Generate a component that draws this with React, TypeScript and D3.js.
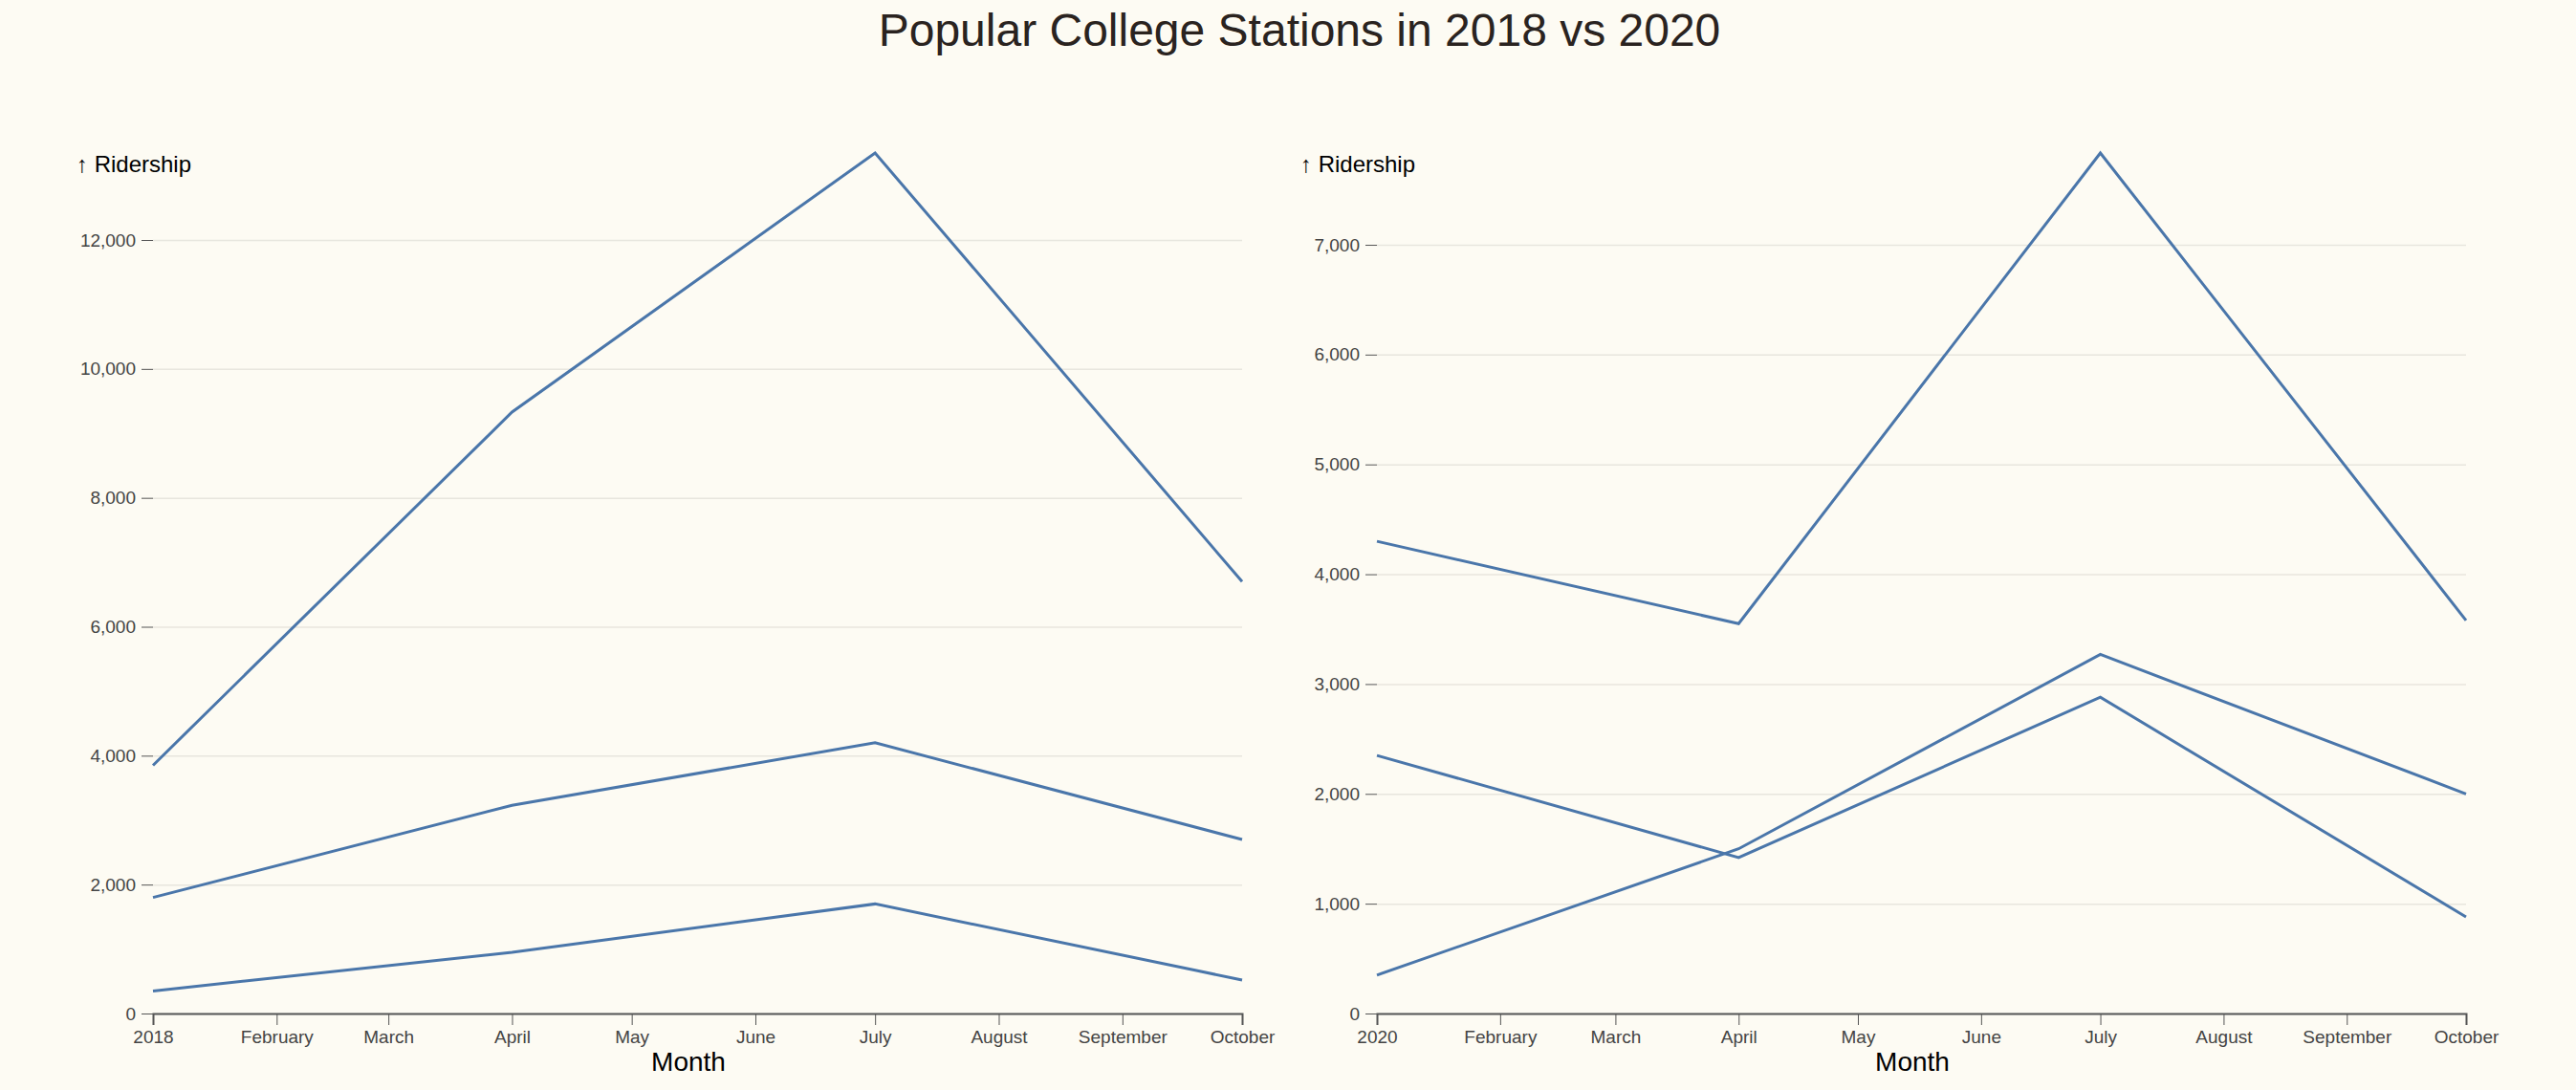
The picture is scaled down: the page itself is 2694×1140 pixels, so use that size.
import React, { useEffect, useRef } from 'react';
import * as d3 from 'd3';

const months2018 = ['2018-01-01', '2018-04-01', '2018-07-01', '2018-10-01'];
const months2020 = ['2020-01-01', '2020-04-01', '2020-07-01', '2020-10-01'];
const series2018 = [
  [3850, 9330, 13350, 6700],
  [1800, 3230, 4200, 2700],
  [350, 950, 1700, 520],
];
const series2020 = [
  [4300, 3550, 7836, 3580],
  [2350, 1420, 2880, 880],
  [350, 1500, 3270, 2000],
];

const W = 2694;
const H = 1140;

const App: React.FC = () => {
  const svgRef = useRef(null);

  useEffect(() => {
    const svg = d3.select(svgRef.current);
    svg.selectAll('*').remove();
    svg.append('rect').attr('width', W).attr('height', H).attr('fill', '#fdfbf3');
    svg.append('text').attr('x', 1359).attr('y', 48).attr('text-anchor', 'middle')
      .attr('font-size', 48).attr('fill', '#2a2320').text('Popular College Stations in 2018 vs 2020');

    const panel = (dates: string[], series: number[][], x0: number, x1: number) => {
      const parse = d3.timeParse('%Y-%m-%d');
      const ds = dates.map(d => parse(d) as Date);
      const x = d3.scaleTime().domain([ds[0], ds[ds.length - 1]]).range([x0, x1]);
      const maxV = d3.max(series.flat()) as number;
      const y = d3.scaleLinear().domain([0, maxV]).range([1060, 160]);
      const g = svg.append('g');

      const ya = g.append('g').attr('transform', `translate(${x0},0)`)
        .call(d3.axisLeft(y).ticks(7).tickSize(12).tickPadding(6));
      ya.select('.domain').remove();
      ya.selectAll('line').attr('stroke', '#555');
      ya.selectAll('text').attr('font-size', 19).attr('fill', '#444').attr('font-family', 'Liberation Sans');
      ya.selectAll('.tick').append('line').attr('x2', x1 - x0).attr('stroke', '#e8e6de').attr('stroke-width', 1.5);

      const xa = g.append('g').attr('transform', 'translate(0,1060)')
        .call(d3.axisBottom(x).ticks(d3.timeMonth).tickSize(12).tickPadding(6));
      xa.select('.domain').attr('stroke', '#555').attr('stroke-width', 2);
      xa.selectAll('line').attr('stroke', '#555');
      xa.selectAll('text').attr('font-size', 19).attr('fill', '#444').attr('font-family', 'Liberation Sans');

      g.append('text').attr('x', x0 - 80).attr('y', 180).attr('font-size', 24).attr('fill', '#000').text('↑ Ridership');
      g.append('text').attr('x', x0 + 560).attr('y', 1120).attr('text-anchor', 'middle').attr('font-size', 28)
        .attr('fill', '#000').text('Month');

      const line = d3.line<number>().x((_, i) => x(ds[i])).y(v => y(v));
      series.forEach(s => {
        g.append('path').attr('d', line(s)).attr('fill', 'none').attr('stroke', '#4a76aa').attr('stroke-width', 3);
      });
    };

    svg.attr('font-family', 'Liberation Sans, Arial, sans-serif');
    panel(months2018, series2018, 160, 1299);
    panel(months2020, series2020, 1440, 2579);
  }, []);

  return (
    <div style={{ position: 'absolute', left: 0, top: 0 }}>
      <svg ref={svgRef} width={W} height={H} style={{ display: 'block' }}></svg>
    </div>
  );
};

export default App;
